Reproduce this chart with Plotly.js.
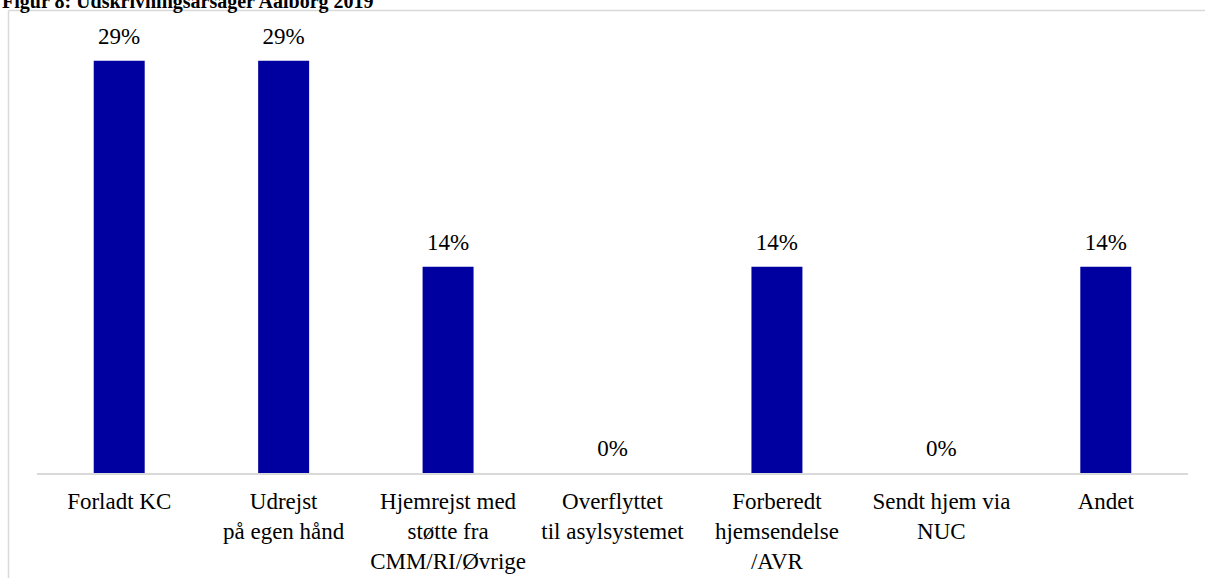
<!DOCTYPE html>
<html>
<head>
<meta charset="utf-8">
<script src="https://cdn.plot.ly/plotly-3.0.1.min.js"></script>
<style>
html,body{margin:0;padding:0;background:#fff;}
#chart{width:1205px;height:578px;}
</style>
</head>
<body>
<div id="chart"></div>
<script>
const categories = [
  "Forladt KC",
  "Udrejst<br>på egen hånd",
  "Hjemrejst med<br>støtte fra<br>CMM/RI/Øvrige",
  "Overflyttet<br>til asylsystemet",
  "Forberedt<br>hjemsendelse<br>/AVR",
  "Sendt hjem via<br>NUC",
  "Andet"
];
const shares = [0.2857, 0.2857, 0.1429, 0, 0.1429, 0, 0.1429];
const valueLabels = ["29%", "29%", "14%", "0%", "14%", "0%", "14%"];
const chartTitle = "Figur 8: Udskrivningsårsager Aalborg 2019";

const L = 37, R = 17, T = 40, B = 105;
const W = 1205 - L - R, H = 578 - T - B;
const px = x => (x - L) / W;
const py = y => 1 - (y - T) / H;

const bars = {
  type: 'bar',
  x: categories,
  y: shares,
  marker: {color: '#0000A0'},
  width: 0.31,
  hoverinfo: 'skip'
};
const labels = {
  type: 'scatter',
  mode: 'markers+text',
  x: categories,
  y: shares,
  text: valueLabels,
  textposition: 'top center',
  marker: {size: 16, opacity: 0},
  textfont: {family: 'Liberation Serif, Times New Roman, serif', size: 23, color: '#000'},
  cliponaxis: false,
  hoverinfo: 'skip'
};

const layout = {
  width: 1205, height: 578,
  margin: {l: L, r: R, t: T, b: B},
  paper_bgcolor: '#fff', plot_bgcolor: '#fff',
  showlegend: false,
  font: {family: 'Liberation Serif, Times New Roman, serif', size: 23, color: '#000'},
  xaxis: {
    type: 'category',
    showgrid: false, zeroline: false,
    showline: true, linecolor: '#d9d9d9', linewidth: 1.5,
    ticks: '', tickfont: {size: 23, color: '#000'},
    ticklabelstandoff: 7,
    fixedrange: true
  },
  yaxis: {
    range: [0, 0.3], visible: false, fixedrange: true
  },
  shapes: [
    {type: 'line', xref: 'paper', yref: 'paper', x0: px(8.5), x1: px(1205), y0: py(10.5), y1: py(10.5), line: {color: '#d9d9d9', width: 1.5}},
    {type: 'line', xref: 'paper', yref: 'paper', x0: px(8.5), x1: px(8.5), y0: py(10.5), y1: py(578), line: {color: '#d9d9d9', width: 1.5}}
  ],
  annotations: [
    {text: '<b>' + chartTitle + '</b>', xref: 'paper', yref: 'paper', x: px(0), y: py(15), xanchor: 'left', yanchor: 'bottom', showarrow: false, font: {size: 20, color: '#000'}}
  ]
};

Plotly.newPlot('chart', [bars, labels], layout, {displayModeBar: false, staticPlot: true});
</script>
</body>
</html>
